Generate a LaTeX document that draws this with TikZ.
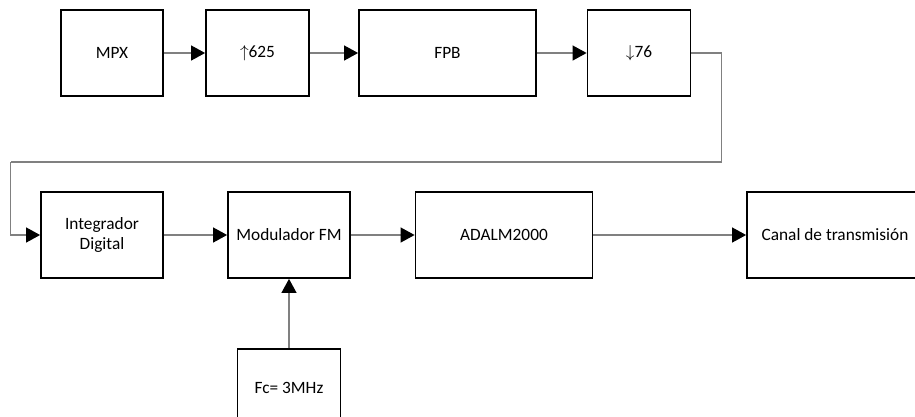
\documentclass[tikz,border=0pt]{standalone}
\usepackage{fontspec}
\setmainfont{Carlito}
\usetikzlibrary{arrows.meta}
\begin{document}
\begin{tikzpicture}[x=1pt,y=-1pt,
  blk/.style={draw=black,line width=1.8pt,minimum height=86pt,inner sep=0pt,align=center,font=\fontsize{17.3}{20}\selectfont},
  conn/.style={draw=gray,line width=1.2pt,-{Triangle[length=14pt,width=15pt,color=black]}},
  wire/.style={draw=gray,line width=1.2pt}]
\useasboundingbox (0,0) rectangle (915,416);
\clip (0,0) rectangle (915,416);
\node[blk,minimum width=102pt] (mpx) at (112,53) {MPX};
\node[blk,minimum width=103pt] (up) at (257.5,53) {$\uparrow$625};
\node[blk,minimum width=177pt] (fpb) at (447.5,53) {FPB};
\node[blk,minimum width=103pt] (down) at (639,53) {$\downarrow$76};
\node[blk,minimum width=122pt] (integ) at (102,235) {Integrador\\Digital};
\node[blk,minimum width=122pt] (mod) at (289,235) {Modulador FM};
\node[blk,minimum width=177pt] (adalm) at (504,235) {ADALM2000};
\node[blk,minimum width=176pt] (canal) at (835,235) {Canal de transmisión};
\node[blk,minimum width=103pt] (fc) at (289,392) {\raisebox{9pt}{Fc= 3MHz}};
\coordinate (c1) at (721.7,53);
\coordinate (c2) at (721.7,162);
\coordinate (c3) at (10.7,162);
\draw[conn] (mpx) -- (up);
\draw[conn] (up) -- (fpb);
\draw[conn] (fpb) -- (down);
\draw[wire] (down.east) -- (c1) -- (c2) -- (c3);
\draw[conn] (c3) |- (integ.west);
\draw[conn] (integ) -- (mod);
\draw[conn] (mod) -- (adalm);
\draw[conn] (adalm) -- (canal);
\draw[conn] (fc) -- (mod);
\end{tikzpicture}
\end{document}
